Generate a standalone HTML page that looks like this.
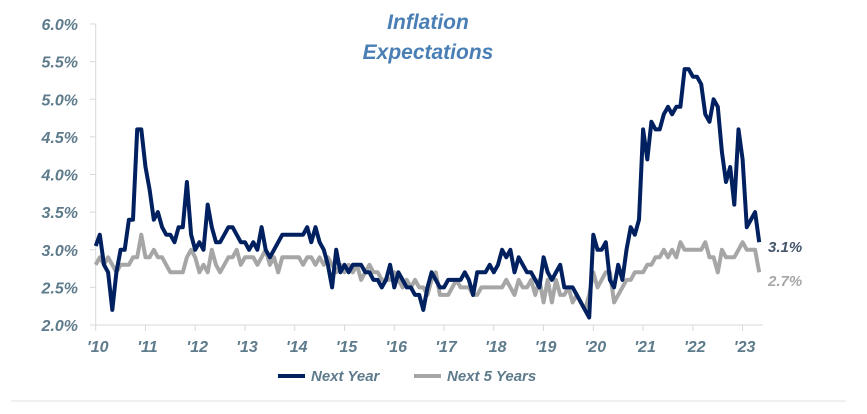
<!DOCTYPE html>
<html><head><meta charset="utf-8"><style>
html,body{margin:0;padding:0;background:#fff;width:867px;height:414px;overflow:hidden}
svg text{font-family:"Liberation Sans",Arial,sans-serif;font-weight:bold;font-style:italic}
</style></head><body>
<svg id="s" width="867" height="414" xmlns="http://www.w3.org/2000/svg">
<text x="428" y="29" text-anchor="middle" font-size="21" fill="#4a7fb5">Inflation</text>
<text x="428" y="59" text-anchor="middle" font-size="21" fill="#4a7fb5">Expectations</text>
<g id="ax" font-size="16" fill="#5e7b8c"></g>
<line x1="95.7" y1="24" x2="95.7" y2="325" stroke="#d9d9d9" stroke-width="1"/>
<line x1="95.7" y1="325" x2="763" y2="325" stroke="#d9d9d9" stroke-width="1"/>
<polyline id="p2" fill="none" stroke="#a6a6a6" stroke-width="4" stroke-linejoin="round"/>
<polyline id="p1" fill="none" stroke="#002060" stroke-width="4" stroke-linejoin="round"/>
<text x="768" y="252" font-size="15" fill="#44546a">3.1%</text>
<text x="768" y="286" font-size="15" fill="#a6a6a6">2.7%</text>
<line x1="278" y1="376" x2="305" y2="376" stroke="#002060" stroke-width="4"/>
<text x="311" y="381" font-size="15" fill="#5e7b8c">Next Year</text>
<line x1="414" y1="376" x2="441" y2="376" stroke="#a6a6a6" stroke-width="4"/>
<text x="447" y="381" font-size="15" fill="#5e7b8c">Next 5 Years</text>
<line x1="11" y1="401" x2="846" y2="401" stroke="#f0f0f0" stroke-width="2"/>
</svg>
<script>
var a=[3.05,3.2,2.8,2.7,2.2,2.7,3.0,3.0,3.4,3.4,4.6,4.6,
4.1,3.8,3.4,3.5,3.3,3.2,3.2,3.1,3.3,3.3,3.9,3.2,
3.0,3.1,3.0,3.6,3.3,3.1,3.1,3.2,3.3,3.3,3.2,3.1,
3.1,3.0,3.1,3.0,3.3,3.0,2.9,3.0,3.1,3.2,3.2,3.2,
3.2,3.2,3.2,3.3,3.1,3.3,3.1,3.0,2.8,2.5,3.0,2.7,
2.8,2.7,2.8,2.8,2.8,2.7,2.7,2.6,2.6,2.5,2.6,2.8,
2.5,2.7,2.6,2.5,2.5,2.4,2.4,2.2,2.5,2.7,2.6,2.5,
2.5,2.6,2.6,2.6,2.6,2.7,2.6,2.4,2.7,2.7,2.7,2.8,
2.7,2.8,3.0,2.9,3.0,2.7,2.9,2.8,2.7,2.7,2.6,2.5,
2.9,2.7,2.6,2.7,2.8,2.5,2.5,2.5,2.4,2.3,2.2,2.1,
3.2,3.0,3.0,3.1,2.6,2.5,2.8,2.6,3.0,3.3,3.2,3.4,
4.6,4.2,4.7,4.6,4.6,4.8,4.9,4.8,4.9,4.9,5.4,5.4,
5.3,5.3,5.2,4.8,4.7,5.0,4.9,4.3,3.9,4.1,3.6,4.6,
4.2,3.3,3.4,3.5,3.1];
var b=[2.8,2.9,2.8,2.9,2.8,2.7,2.8,2.8,2.8,2.9,2.9,3.2,
2.9,2.9,3.0,2.9,2.9,2.8,2.7,2.7,2.7,2.7,2.9,3.0,
2.9,2.7,2.8,2.7,3.0,2.8,2.7,2.8,2.9,2.9,3.0,2.8,
2.9,2.9,2.9,2.8,2.9,3.0,2.8,2.9,2.7,2.9,2.9,2.9,
2.9,2.9,2.8,2.9,2.9,2.8,2.9,2.8,2.9,2.8,2.7,2.8,
2.7,2.8,2.7,2.8,2.6,2.7,2.8,2.7,2.7,2.6,2.6,2.6,
2.7,2.6,2.5,2.6,2.5,2.6,2.5,2.5,2.4,2.6,2.7,2.4,
2.4,2.4,2.5,2.6,2.5,2.5,2.5,2.4,2.4,2.5,2.5,2.5,
2.5,2.5,2.5,2.6,2.5,2.4,2.6,2.5,2.5,2.6,2.4,2.6,
2.3,2.6,2.3,2.6,2.4,2.4,2.5,2.3,2.4,2.3,2.2,2.4,
2.7,2.5,2.6,2.7,2.7,2.3,2.4,2.5,2.6,2.6,2.7,2.7,
2.7,2.8,2.8,2.9,2.9,3.0,2.9,3.0,2.9,3.1,3.0,3.0,
3.0,3.0,3.0,3.1,2.9,2.9,2.7,3.0,2.9,2.9,2.9,3.0,
3.1,3.0,3.0,3.0,2.7];
function X(i){return 95.7+i*4.147}function Y(v){return 325-(v-2)*75.25}
function pts(d){return d.map(function(v,i){return X(i).toFixed(1)+","+Y(v).toFixed(1)}).join(" ")}
document.getElementById("p1").setAttribute("points",pts(a));
document.getElementById("p2").setAttribute("points",pts(b));
var g=document.getElementById("ax"),h="";
for(var k=0;k<=8;k++){var v=2+k*0.5,y=Y(v);h+='<text x="78" y="'+(y+6)+'" text-anchor="end">'+v.toFixed(1)+'%</text><line x1="90" x2="95.7" y1="'+y+'" y2="'+y+'" stroke="#d9d9d9"/>';}
for(var yr=0;yr<=13;yr++){var x=95.7+yr*49.76;h+='<text x="'+(x+2)+'" y="352" text-anchor="middle">\''+(10+yr)+'</text><line x1="'+x+'" x2="'+x+'" y1="325" y2="331" stroke="#d9d9d9"/>';}
g.innerHTML=h;
</script>
</body></html>
